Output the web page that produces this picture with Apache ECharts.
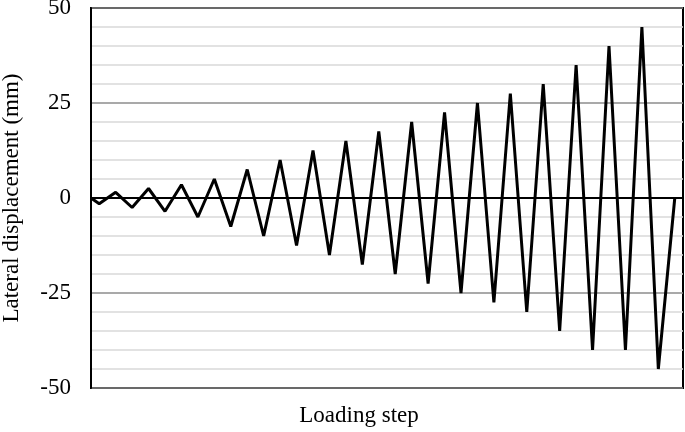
<!DOCTYPE html>
<html>
<head>
<meta charset="utf-8">
<script src="https://cdn.jsdelivr.net/npm/echarts@6/dist/echarts.min.js"></script>
<style>
  html, body { margin: 0; padding: 0; background: #fff; }
  #chart { width: 685px; height: 432px; }
</style>
</head>
<body>
<div id="chart"></div>
<script>
// loading step positions (half steps) and lateral displacement (mm)
const steps = [0, 0.5, 1.5, 2.5, 3.5, 4.5, 5.5, 6.5, 7.5, 8.5, 9.5, 10.5, 11.5, 12.5, 13.5, 14.5,
  15.5, 16.5, 17.5, 18.5, 19.5, 20.5, 21.5, 22.5, 23.5, 24.5, 25.5, 26.5, 27.5, 28.5, 29.5,
  30.5, 31.5, 32.5, 33.5, 34.5, 35.5];
const displacement = [0, -1.5, 1.5, -2.5, 2.5, -3.5, 3.5, -5, 5, -7.5, 7.5, -10, 10, -12.5, 12.5, -15,
  15, -17.5, 17.5, -20, 20, -22.5, 22.5, -25, 25, -27.5, 27.5, -30, 30, -35, 35,
  -40, 40, -40, 45, -45, 0];
const yTicks = [-50, -25, 0, 25, 50];

const font = "'Liberation Serif', 'Times New Roman', serif";
const chart = echarts.init(document.getElementById("chart"));

chart.setOption({
  animation: false,
  grid: {
    left: 91,
    right: 2,
    top: 8,
    bottom: 44,
    outerBoundsMode: "none",
    show: true,
    borderColor: "#000",
    borderWidth: 2,
  },
  xAxis: {
    type: "value",
    min: 0,
    max: 36,
    name: "Loading step",
    nameLocation: "middle",
    nameGap: 16,
    nameTextStyle: { fontFamily: font, fontSize: 23, color: "#000", padding: [0, 56, 0, 0] },
    axisLabel: { show: false },
    axisTick: { show: false },
    splitLine: { show: false },
    axisLine: { lineStyle: { color: "#000", width: 2 } },
  },
  yAxis: {
    type: "value",
    min: yTicks[0],
    max: yTicks[yTicks.length - 1],
    interval: 25,
    name: "Lateral displacement (mm)",
    nameLocation: "middle",
    nameGap: 68,
    nameTextStyle: { fontFamily: font, fontSize: 23, color: "#000" },
    axisLabel: { fontFamily: font, fontSize: 23, color: "#000", margin: 20 },
    axisTick: { show: false },
    axisLine: { show: true, lineStyle: { color: "#000", width: 2 } },
    splitLine: { lineStyle: { color: "#8c8c8c", width: 1.5 } },
    minorTick: { show: false, splitNumber: 5 },
    minorSplitLine: { show: true, lineStyle: { color: "#d9d9d9", width: 1.5 } },
  },
  series: [
    {
      type: "line",
      data: steps.map((s, i) => [s, displacement[i]]),
      symbol: "none",
      lineStyle: { color: "#000", width: 3 },
    },
  ],
});
</script>
</body>
</html>
